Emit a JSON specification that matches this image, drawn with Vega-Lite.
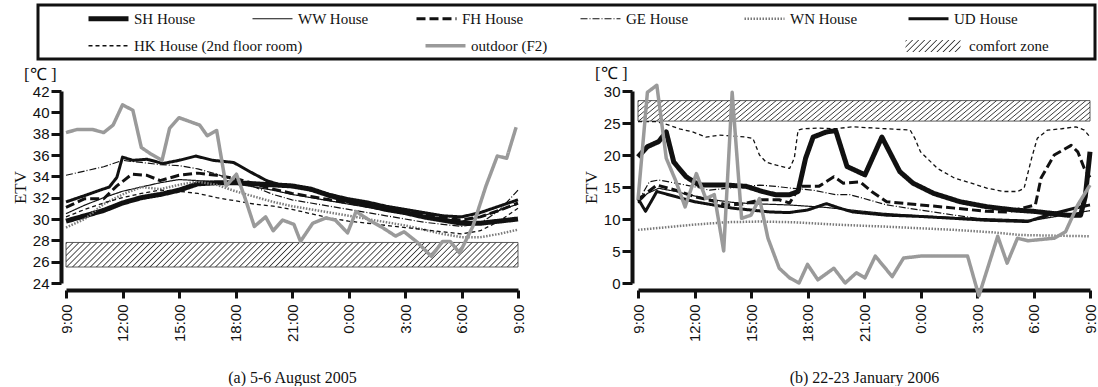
{
"$schema": "https://vega.github.io/schema/vega-lite/v6.json",
"padding": {"left": 11, "top": 3, "right": 3, "bottom": 0},
"background": "white",
"params": [
 {"name": "hatchSmall", "value": {"gradient": "linear", "x1": 0, "y1": 0, "x2": 1.163, "y2": 0.2535, "stops": [
{"offset":0,"color":"#fff"},{"offset":0.018,"color":"#3a3a3a"},{"offset":0.036,"color":"#fff"},
{"offset":0.09,"color":"#fff"},{"offset":0.108,"color":"#3a3a3a"},{"offset":0.126,"color":"#fff"},
{"offset":0.18,"color":"#fff"},{"offset":0.198,"color":"#3a3a3a"},{"offset":0.216,"color":"#fff"},
{"offset":0.27,"color":"#fff"},{"offset":0.288,"color":"#3a3a3a"},{"offset":0.306,"color":"#fff"},
{"offset":0.36,"color":"#fff"},{"offset":0.378,"color":"#3a3a3a"},{"offset":0.396,"color":"#fff"},
{"offset":0.45,"color":"#fff"},{"offset":0.468,"color":"#3a3a3a"},{"offset":0.486,"color":"#fff"},
{"offset":0.54,"color":"#fff"},{"offset":0.558,"color":"#3a3a3a"},{"offset":0.576,"color":"#fff"},
{"offset":0.63,"color":"#fff"},{"offset":0.648,"color":"#3a3a3a"},{"offset":0.666,"color":"#fff"},
{"offset":0.72,"color":"#fff"},{"offset":0.738,"color":"#3a3a3a"},{"offset":0.756,"color":"#fff"},
{"offset":0.81,"color":"#fff"},{"offset":0.828,"color":"#3a3a3a"},{"offset":0.846,"color":"#fff"},
{"offset":0.9,"color":"#fff"},{"offset":0.918,"color":"#3a3a3a"},{"offset":0.936,"color":"#fff"},
{"offset":1,"color":"#fff"}]}},
 {"name": "hatch", "value": {"gradient": "linear", "x1": 0, "y1": 0, "x2": 1.051, "y2": 0.0568, "stops": [
{"offset":0,"color":"#fff"},{"offset":0.0025,"color":"#3a3a3a"},{"offset":0.005,"color":"#fff"},
{"offset":0.0125,"color":"#fff"},{"offset":0.015,"color":"#3a3a3a"},{"offset":0.0175,"color":"#fff"},
{"offset":0.025,"color":"#fff"},{"offset":0.0275,"color":"#3a3a3a"},{"offset":0.03,"color":"#fff"},
{"offset":0.0375,"color":"#fff"},{"offset":0.04,"color":"#3a3a3a"},{"offset":0.0425,"color":"#fff"},
{"offset":0.05,"color":"#fff"},{"offset":0.0525,"color":"#3a3a3a"},{"offset":0.055,"color":"#fff"},
{"offset":0.0625,"color":"#fff"},{"offset":0.065,"color":"#3a3a3a"},{"offset":0.0675,"color":"#fff"},
{"offset":0.075,"color":"#fff"},{"offset":0.0775,"color":"#3a3a3a"},{"offset":0.08,"color":"#fff"},
{"offset":0.0875,"color":"#fff"},{"offset":0.09,"color":"#3a3a3a"},{"offset":0.0925,"color":"#fff"},
{"offset":0.1,"color":"#fff"},{"offset":0.1025,"color":"#3a3a3a"},{"offset":0.105,"color":"#fff"},
{"offset":0.1125,"color":"#fff"},{"offset":0.115,"color":"#3a3a3a"},{"offset":0.1175,"color":"#fff"},
{"offset":0.125,"color":"#fff"},{"offset":0.1275,"color":"#3a3a3a"},{"offset":0.13,"color":"#fff"},
{"offset":0.1375,"color":"#fff"},{"offset":0.14,"color":"#3a3a3a"},{"offset":0.1425,"color":"#fff"},
{"offset":0.15,"color":"#fff"},{"offset":0.1525,"color":"#3a3a3a"},{"offset":0.155,"color":"#fff"},
{"offset":0.1625,"color":"#fff"},{"offset":0.165,"color":"#3a3a3a"},{"offset":0.1675,"color":"#fff"},
{"offset":0.175,"color":"#fff"},{"offset":0.1775,"color":"#3a3a3a"},{"offset":0.18,"color":"#fff"},
{"offset":0.1875,"color":"#fff"},{"offset":0.19,"color":"#3a3a3a"},{"offset":0.1925,"color":"#fff"},
{"offset":0.2,"color":"#fff"},{"offset":0.2025,"color":"#3a3a3a"},{"offset":0.205,"color":"#fff"},
{"offset":0.2125,"color":"#fff"},{"offset":0.215,"color":"#3a3a3a"},{"offset":0.2175,"color":"#fff"},
{"offset":0.225,"color":"#fff"},{"offset":0.2275,"color":"#3a3a3a"},{"offset":0.23,"color":"#fff"},
{"offset":0.2375,"color":"#fff"},{"offset":0.24,"color":"#3a3a3a"},{"offset":0.2425,"color":"#fff"},
{"offset":0.25,"color":"#fff"},{"offset":0.2525,"color":"#3a3a3a"},{"offset":0.255,"color":"#fff"},
{"offset":0.2625,"color":"#fff"},{"offset":0.265,"color":"#3a3a3a"},{"offset":0.2675,"color":"#fff"},
{"offset":0.275,"color":"#fff"},{"offset":0.2775,"color":"#3a3a3a"},{"offset":0.28,"color":"#fff"},
{"offset":0.2875,"color":"#fff"},{"offset":0.29,"color":"#3a3a3a"},{"offset":0.2925,"color":"#fff"},
{"offset":0.3,"color":"#fff"},{"offset":0.3025,"color":"#3a3a3a"},{"offset":0.305,"color":"#fff"},
{"offset":0.3125,"color":"#fff"},{"offset":0.315,"color":"#3a3a3a"},{"offset":0.3175,"color":"#fff"},
{"offset":0.325,"color":"#fff"},{"offset":0.3275,"color":"#3a3a3a"},{"offset":0.33,"color":"#fff"},
{"offset":0.3375,"color":"#fff"},{"offset":0.34,"color":"#3a3a3a"},{"offset":0.3425,"color":"#fff"},
{"offset":0.35,"color":"#fff"},{"offset":0.3525,"color":"#3a3a3a"},{"offset":0.355,"color":"#fff"},
{"offset":0.3625,"color":"#fff"},{"offset":0.365,"color":"#3a3a3a"},{"offset":0.3675,"color":"#fff"},
{"offset":0.375,"color":"#fff"},{"offset":0.3775,"color":"#3a3a3a"},{"offset":0.38,"color":"#fff"},
{"offset":0.3875,"color":"#fff"},{"offset":0.39,"color":"#3a3a3a"},{"offset":0.3925,"color":"#fff"},
{"offset":0.4,"color":"#fff"},{"offset":0.4025,"color":"#3a3a3a"},{"offset":0.405,"color":"#fff"},
{"offset":0.4125,"color":"#fff"},{"offset":0.415,"color":"#3a3a3a"},{"offset":0.4175,"color":"#fff"},
{"offset":0.425,"color":"#fff"},{"offset":0.4275,"color":"#3a3a3a"},{"offset":0.43,"color":"#fff"},
{"offset":0.4375,"color":"#fff"},{"offset":0.44,"color":"#3a3a3a"},{"offset":0.4425,"color":"#fff"},
{"offset":0.45,"color":"#fff"},{"offset":0.4525,"color":"#3a3a3a"},{"offset":0.455,"color":"#fff"},
{"offset":0.4625,"color":"#fff"},{"offset":0.465,"color":"#3a3a3a"},{"offset":0.4675,"color":"#fff"},
{"offset":0.475,"color":"#fff"},{"offset":0.4775,"color":"#3a3a3a"},{"offset":0.48,"color":"#fff"},
{"offset":0.4875,"color":"#fff"},{"offset":0.49,"color":"#3a3a3a"},{"offset":0.4925,"color":"#fff"},
{"offset":0.5,"color":"#fff"},{"offset":0.5025,"color":"#3a3a3a"},{"offset":0.505,"color":"#fff"},
{"offset":0.5125,"color":"#fff"},{"offset":0.515,"color":"#3a3a3a"},{"offset":0.5175,"color":"#fff"},
{"offset":0.525,"color":"#fff"},{"offset":0.5275,"color":"#3a3a3a"},{"offset":0.53,"color":"#fff"},
{"offset":0.5375,"color":"#fff"},{"offset":0.54,"color":"#3a3a3a"},{"offset":0.5425,"color":"#fff"},
{"offset":0.55,"color":"#fff"},{"offset":0.5525,"color":"#3a3a3a"},{"offset":0.555,"color":"#fff"},
{"offset":0.5625,"color":"#fff"},{"offset":0.565,"color":"#3a3a3a"},{"offset":0.5675,"color":"#fff"},
{"offset":0.575,"color":"#fff"},{"offset":0.5775,"color":"#3a3a3a"},{"offset":0.58,"color":"#fff"},
{"offset":0.5875,"color":"#fff"},{"offset":0.59,"color":"#3a3a3a"},{"offset":0.5925,"color":"#fff"},
{"offset":0.6,"color":"#fff"},{"offset":0.6025,"color":"#3a3a3a"},{"offset":0.605,"color":"#fff"},
{"offset":0.6125,"color":"#fff"},{"offset":0.615,"color":"#3a3a3a"},{"offset":0.6175,"color":"#fff"},
{"offset":0.625,"color":"#fff"},{"offset":0.6275,"color":"#3a3a3a"},{"offset":0.63,"color":"#fff"},
{"offset":0.6375,"color":"#fff"},{"offset":0.64,"color":"#3a3a3a"},{"offset":0.6425,"color":"#fff"},
{"offset":0.65,"color":"#fff"},{"offset":0.6525,"color":"#3a3a3a"},{"offset":0.655,"color":"#fff"},
{"offset":0.6625,"color":"#fff"},{"offset":0.665,"color":"#3a3a3a"},{"offset":0.6675,"color":"#fff"},
{"offset":0.675,"color":"#fff"},{"offset":0.6775,"color":"#3a3a3a"},{"offset":0.68,"color":"#fff"},
{"offset":0.6875,"color":"#fff"},{"offset":0.69,"color":"#3a3a3a"},{"offset":0.6925,"color":"#fff"},
{"offset":0.7,"color":"#fff"},{"offset":0.7025,"color":"#3a3a3a"},{"offset":0.705,"color":"#fff"},
{"offset":0.7125,"color":"#fff"},{"offset":0.715,"color":"#3a3a3a"},{"offset":0.7175,"color":"#fff"},
{"offset":0.725,"color":"#fff"},{"offset":0.7275,"color":"#3a3a3a"},{"offset":0.73,"color":"#fff"},
{"offset":0.7375,"color":"#fff"},{"offset":0.74,"color":"#3a3a3a"},{"offset":0.7425,"color":"#fff"},
{"offset":0.75,"color":"#fff"},{"offset":0.7525,"color":"#3a3a3a"},{"offset":0.755,"color":"#fff"},
{"offset":0.7625,"color":"#fff"},{"offset":0.765,"color":"#3a3a3a"},{"offset":0.7675,"color":"#fff"},
{"offset":0.775,"color":"#fff"},{"offset":0.7775,"color":"#3a3a3a"},{"offset":0.78,"color":"#fff"},
{"offset":0.7875,"color":"#fff"},{"offset":0.79,"color":"#3a3a3a"},{"offset":0.7925,"color":"#fff"},
{"offset":0.8,"color":"#fff"},{"offset":0.8025,"color":"#3a3a3a"},{"offset":0.805,"color":"#fff"},
{"offset":0.8125,"color":"#fff"},{"offset":0.815,"color":"#3a3a3a"},{"offset":0.8175,"color":"#fff"},
{"offset":0.825,"color":"#fff"},{"offset":0.8275,"color":"#3a3a3a"},{"offset":0.83,"color":"#fff"},
{"offset":0.8375,"color":"#fff"},{"offset":0.84,"color":"#3a3a3a"},{"offset":0.8425,"color":"#fff"},
{"offset":0.85,"color":"#fff"},{"offset":0.8525,"color":"#3a3a3a"},{"offset":0.855,"color":"#fff"},
{"offset":0.8625,"color":"#fff"},{"offset":0.865,"color":"#3a3a3a"},{"offset":0.8675,"color":"#fff"},
{"offset":0.875,"color":"#fff"},{"offset":0.8775,"color":"#3a3a3a"},{"offset":0.88,"color":"#fff"},
{"offset":0.8875,"color":"#fff"},{"offset":0.89,"color":"#3a3a3a"},{"offset":0.8925,"color":"#fff"},
{"offset":0.9,"color":"#fff"},{"offset":0.9025,"color":"#3a3a3a"},{"offset":0.905,"color":"#fff"},
{"offset":0.9125,"color":"#fff"},{"offset":0.915,"color":"#3a3a3a"},{"offset":0.9175,"color":"#fff"},
{"offset":0.925,"color":"#fff"},{"offset":0.9275,"color":"#3a3a3a"},{"offset":0.93,"color":"#fff"},
{"offset":0.9375,"color":"#fff"},{"offset":0.94,"color":"#3a3a3a"},{"offset":0.9425,"color":"#fff"},
{"offset":0.95,"color":"#fff"},{"offset":0.9525,"color":"#3a3a3a"},{"offset":0.955,"color":"#fff"},
{"offset":0.9625,"color":"#fff"},{"offset":0.965,"color":"#3a3a3a"},{"offset":0.9675,"color":"#fff"},
{"offset":0.975,"color":"#fff"},{"offset":0.9775,"color":"#3a3a3a"},{"offset":0.98,"color":"#fff"},
{"offset":0.9875,"color":"#fff"},{"offset":0.99,"color":"#3a3a3a"},{"offset":0.9925,"color":"#fff"},
{"offset":1,"color":"#fff"}]}}
],
"config": {
 "view": {"stroke": null},
 "font": "Liberation Serif",
 "axis": {"grid": false, "domainColor": "#111", "domainWidth": 4, "tickColor": "#111", "tickWidth": 3, "labelFont": "Liberation Sans", "labelFontSize": 15, "labelColor": "#111", "titleFont": "Liberation Serif", "titleFontSize": 17, "titleFontWeight": "normal", "titleColor": "#111", "labelOverlap": false, "labelFlush": false},
 "legend": {"labelFont": "Liberation Serif", "labelFontSize": 15, "labelColor": "#111", "padding": 0, "labelLimit": 400},
 "title": {"font": "Liberation Serif", "fontSize": 17, "fontWeight": "normal", "color": "#111"},
 "line": {"strokeJoin": "round"}
},
"datasets": {
 "comfortA": [{"t": 9, "t2": 33, "v": 25.5, "v2": 27.8, "zone": "comfort zone"}],
 "comfortB": [{"t": 9, "t2": 33, "v": 25.3, "v2": 28.5, "zone": "comfort zone"}],
 "a": [
{"s":"SH House","t":9,"v":29.8},{"s":"SH House","t":10,"v":30.3},{"s":"SH House","t":11,"v":30.8},{"s":"SH House","t":12,"v":31.5},{"s":"SH House","t":13,"v":32.0},{"s":"SH House","t":14,"v":32.3},{"s":"SH House","t":15,"v":32.7},{"s":"SH House","t":16,"v":33.3},{"s":"SH House","t":17,"v":33.4},{"s":"SH House","t":18,"v":33.4},{"s":"SH House","t":19,"v":33.3},{"s":"SH House","t":20,"v":33.2},{"s":"SH House","t":21,"v":33.1},{"s":"SH House","t":22,"v":32.8},{"s":"SH House","t":23,"v":32.2},{"s":"SH House","t":24,"v":31.7},{"s":"SH House","t":25,"v":31.3},{"s":"SH House","t":26,"v":30.9},{"s":"SH House","t":27,"v":30.6},{"s":"SH House","t":28,"v":30.2},{"s":"SH House","t":29,"v":29.9},{"s":"SH House","t":30,"v":29.6},{"s":"SH House","t":31,"v":29.6},{"s":"SH House","t":32,"v":29.8},{"s":"SH House","t":33,"v":30.0},
{"s":"WW House","t":9,"v":30.5},{"s":"WW House","t":10,"v":31.3},{"s":"WW House","t":11,"v":32.0},{"s":"WW House","t":12,"v":32.6},{"s":"WW House","t":13,"v":33.0},{"s":"WW House","t":14,"v":33.4},{"s":"WW House","t":15,"v":33.7},{"s":"WW House","t":16,"v":33.6},{"s":"WW House","t":17,"v":33.5},{"s":"WW House","t":18,"v":33.3},{"s":"WW House","t":19,"v":33.0},{"s":"WW House","t":20,"v":32.7},{"s":"WW House","t":21,"v":32.3},{"s":"WW House","t":22,"v":32.0},{"s":"WW House","t":23,"v":31.7},{"s":"WW House","t":24,"v":31.4},{"s":"WW House","t":25,"v":31.1},{"s":"WW House","t":26,"v":30.8},{"s":"WW House","t":27,"v":30.5},{"s":"WW House","t":28,"v":30.2},{"s":"WW House","t":29,"v":29.9},{"s":"WW House","t":30,"v":29.8},{"s":"WW House","t":31,"v":30.2},{"s":"WW House","t":32,"v":30.8},{"s":"WW House","t":33,"v":31.4},
{"s":"FH House","t":9,"v":31.1},{"s":"FH House","t":10,"v":31.9},{"s":"FH House","t":11,"v":31.9},{"s":"FH House","t":11.7,"v":33.1},{"s":"FH House","t":12.5,"v":34.2},{"s":"FH House","t":13.3,"v":34.1},{"s":"FH House","t":14,"v":33.6},{"s":"FH House","t":15,"v":34.1},{"s":"FH House","t":16,"v":34.3},{"s":"FH House","t":17,"v":34.1},{"s":"FH House","t":18,"v":33.8},{"s":"FH House","t":19,"v":33.3},{"s":"FH House","t":20,"v":32.8},{"s":"FH House","t":21,"v":32.4},{"s":"FH House","t":22,"v":32.1},{"s":"FH House","t":23,"v":31.8},{"s":"FH House","t":24,"v":31.5},{"s":"FH House","t":25,"v":31.2},{"s":"FH House","t":26,"v":31.0},{"s":"FH House","t":27,"v":30.7},{"s":"FH House","t":28,"v":30.4},{"s":"FH House","t":29,"v":30.1},{"s":"FH House","t":30,"v":29.9},{"s":"FH House","t":31,"v":30.2},{"s":"FH House","t":32,"v":30.8},{"s":"FH House","t":33,"v":31.5},
{"s":"GE House","t":9,"v":34.1},{"s":"GE House","t":10,"v":34.5},{"s":"GE House","t":11,"v":34.9},{"s":"GE House","t":12,"v":35.5},{"s":"GE House","t":13,"v":35.3},{"s":"GE House","t":14,"v":35.1},{"s":"GE House","t":15,"v":35.0},{"s":"GE House","t":16,"v":34.7},{"s":"GE House","t":17,"v":34.2},{"s":"GE House","t":18,"v":33.6},{"s":"GE House","t":19,"v":33.0},{"s":"GE House","t":20,"v":32.3},{"s":"GE House","t":21,"v":31.8},{"s":"GE House","t":22,"v":31.5},{"s":"GE House","t":23,"v":31.2},{"s":"GE House","t":24,"v":30.9},{"s":"GE House","t":25,"v":30.6},{"s":"GE House","t":26,"v":30.3},{"s":"GE House","t":27,"v":30.0},{"s":"GE House","t":28,"v":29.7},{"s":"GE House","t":29,"v":29.5},{"s":"GE House","t":30,"v":29.3},{"s":"GE House","t":31,"v":29.6},{"s":"GE House","t":32,"v":30.8},{"s":"GE House","t":33,"v":32.7},
{"s":"WN House","t":9,"v":29.2},{"s":"WN House","t":10,"v":30.0},{"s":"WN House","t":11,"v":31.4},{"s":"WN House","t":12,"v":32.3},{"s":"WN House","t":13,"v":33.0},{"s":"WN House","t":14,"v":32.8},{"s":"WN House","t":15,"v":33.2},{"s":"WN House","t":16,"v":33.5},{"s":"WN House","t":17,"v":33.2},{"s":"WN House","t":18,"v":32.6},{"s":"WN House","t":19,"v":32.1},{"s":"WN House","t":20,"v":31.6},{"s":"WN House","t":21,"v":31.2},{"s":"WN House","t":22,"v":30.9},{"s":"WN House","t":23,"v":30.6},{"s":"WN House","t":24,"v":30.3},{"s":"WN House","t":25,"v":30.0},{"s":"WN House","t":26,"v":29.7},{"s":"WN House","t":27,"v":29.4},{"s":"WN House","t":28,"v":29.0},{"s":"WN House","t":29,"v":28.6},{"s":"WN House","t":30,"v":28.3},{"s":"WN House","t":31,"v":28.3},{"s":"WN House","t":32,"v":28.6},{"s":"WN House","t":33,"v":29.0},
{"s":"UD House","t":9,"v":31.6},{"s":"UD House","t":10,"v":32.2},{"s":"UD House","t":10.8,"v":32.7},{"s":"UD House","t":11.3,"v":33.0},{"s":"UD House","t":11.7,"v":33.9},{"s":"UD House","t":12,"v":35.8},{"s":"UD House","t":12.55,"v":35.5},{"s":"UD House","t":13.3,"v":35.6},{"s":"UD House","t":14.15,"v":35.2},{"s":"UD House","t":15,"v":35.5},{"s":"UD House","t":15.9,"v":35.9},{"s":"UD House","t":16.8,"v":35.5},{"s":"UD House","t":17.9,"v":35.3},{"s":"UD House","t":18.8,"v":34.4},{"s":"UD House","t":19.65,"v":33.6},{"s":"UD House","t":20.55,"v":33.1},{"s":"UD House","t":21.4,"v":33.0},{"s":"UD House","t":22,"v":32.7},{"s":"UD House","t":23,"v":32.3},{"s":"UD House","t":24,"v":31.9},{"s":"UD House","t":25,"v":31.6},{"s":"UD House","t":26,"v":31.2},{"s":"UD House","t":27,"v":30.9},{"s":"UD House","t":28,"v":30.6},{"s":"UD House","t":29,"v":30.3},{"s":"UD House","t":30,"v":30.2},{"s":"UD House","t":31,"v":30.6},{"s":"UD House","t":32,"v":31.2},{"s":"UD House","t":33,"v":31.8},
{"s":"HK House (2nd floor room)","t":9,"v":30.2},{"s":"HK House (2nd floor room)","t":10,"v":30.9},{"s":"HK House (2nd floor room)","t":11,"v":31.5},{"s":"HK House (2nd floor room)","t":12,"v":32.0},{"s":"HK House (2nd floor room)","t":13,"v":32.4},{"s":"HK House (2nd floor room)","t":14,"v":32.7},{"s":"HK House (2nd floor room)","t":15,"v":32.6},{"s":"HK House (2nd floor room)","t":16,"v":32.4},{"s":"HK House (2nd floor room)","t":17,"v":32.0},{"s":"HK House (2nd floor room)","t":18,"v":31.7},{"s":"HK House (2nd floor room)","t":19,"v":31.4},{"s":"HK House (2nd floor room)","t":20,"v":31.2},{"s":"HK House (2nd floor room)","t":21,"v":30.9},{"s":"HK House (2nd floor room)","t":22,"v":30.5},{"s":"HK House (2nd floor room)","t":23,"v":30.1},{"s":"HK House (2nd floor room)","t":24,"v":29.8},{"s":"HK House (2nd floor room)","t":25,"v":29.6},{"s":"HK House (2nd floor room)","t":26,"v":29.4},{"s":"HK House (2nd floor room)","t":27,"v":29.2},{"s":"HK House (2nd floor room)","t":28,"v":29.0},{"s":"HK House (2nd floor room)","t":29,"v":28.8},{"s":"HK House (2nd floor room)","t":30,"v":28.6},{"s":"HK House (2nd floor room)","t":31,"v":28.9},{"s":"HK House (2nd floor room)","t":32,"v":29.8},{"s":"HK House (2nd floor room)","t":33,"v":31.0},
{"s":"outdoor (F2)","t":9,"v":38.1},{"s":"outdoor (F2)","t":9.6,"v":38.4},{"s":"outdoor (F2)","t":10.4,"v":38.4},{"s":"outdoor (F2)","t":11,"v":38.1},{"s":"outdoor (F2)","t":11.5,"v":38.8},{"s":"outdoor (F2)","t":12,"v":40.7},{"s":"outdoor (F2)","t":12.55,"v":40.2},{"s":"outdoor (F2)","t":13,"v":36.7},{"s":"outdoor (F2)","t":13.5,"v":36.1},{"s":"outdoor (F2)","t":14.1,"v":35.5},{"s":"outdoor (F2)","t":14.5,"v":38.5},{"s":"outdoor (F2)","t":15,"v":39.5},{"s":"outdoor (F2)","t":16.1,"v":38.8},{"s":"outdoor (F2)","t":16.5,"v":37.8},{"s":"outdoor (F2)","t":17,"v":38.3},{"s":"outdoor (F2)","t":17.5,"v":33.1},{"s":"outdoor (F2)","t":18.05,"v":34.2},{"s":"outdoor (F2)","t":18.5,"v":32.0},{"s":"outdoor (F2)","t":19,"v":29.3},{"s":"outdoor (F2)","t":19.6,"v":30.2},{"s":"outdoor (F2)","t":20,"v":28.9},{"s":"outdoor (F2)","t":20.5,"v":29.9},{"s":"outdoor (F2)","t":21.1,"v":29.5},{"s":"outdoor (F2)","t":21.45,"v":27.9},{"s":"outdoor (F2)","t":22.1,"v":29.6},{"s":"outdoor (F2)","t":22.8,"v":30.1},{"s":"outdoor (F2)","t":23.3,"v":29.9},{"s":"outdoor (F2)","t":23.95,"v":28.7},{"s":"outdoor (F2)","t":24.4,"v":30.7},{"s":"outdoor (F2)","t":25.1,"v":29.9},{"s":"outdoor (F2)","t":25.8,"v":29.2},{"s":"outdoor (F2)","t":26.5,"v":28.4},{"s":"outdoor (F2)","t":26.95,"v":28.8},{"s":"outdoor (F2)","t":27.6,"v":27.9},{"s":"outdoor (F2)","t":28.4,"v":26.5},{"s":"outdoor (F2)","t":29,"v":27.9},{"s":"outdoor (F2)","t":29.4,"v":27.9},{"s":"outdoor (F2)","t":29.9,"v":26.8},{"s":"outdoor (F2)","t":30.6,"v":29.3},{"s":"outdoor (F2)","t":31.3,"v":33.1},{"s":"outdoor (F2)","t":31.9,"v":35.9},{"s":"outdoor (F2)","t":32.4,"v":35.7},{"s":"outdoor (F2)","t":32.9,"v":38.6}
 ],
 "b": [
{"s":"SH House","t":9,"v":19.7},{"s":"SH House","t":9.5,"v":21.3},{"s":"SH House","t":10.1,"v":22.1},{"s":"SH House","t":10.5,"v":23.6},{"s":"SH House","t":10.9,"v":18.9},{"s":"SH House","t":11.55,"v":16.6},{"s":"SH House","t":12.25,"v":15.3},{"s":"SH House","t":13.7,"v":15.3},{"s":"SH House","t":14.75,"v":15.1},{"s":"SH House","t":15.6,"v":14.3},{"s":"SH House","t":16.3,"v":13.8},{"s":"SH House","t":17.05,"v":13.8},{"s":"SH House","t":17.5,"v":14.3},{"s":"SH House","t":17.9,"v":19.5},{"s":"SH House","t":18.3,"v":22.8},{"s":"SH House","t":19,"v":23.6},{"s":"SH House","t":19.5,"v":23.8},{"s":"SH House","t":20.1,"v":18.2},{"s":"SH House","t":21.05,"v":16.9},{"s":"SH House","t":21.95,"v":22.8},{"s":"SH House","t":22.9,"v":17.4},{"s":"SH House","t":23.6,"v":15.6},{"s":"SH House","t":24.7,"v":14.0},{"s":"SH House","t":26.1,"v":12.7},{"s":"SH House","t":27.55,"v":11.9},{"s":"SH House","t":29,"v":11.4},{"s":"SH House","t":30,"v":11.2},{"s":"SH House","t":30.9,"v":10.9},{"s":"SH House","t":31.8,"v":10.6},{"s":"SH House","t":32.5,"v":10.6},{"s":"SH House","t":32.75,"v":13.5},{"s":"SH House","t":33,"v":20.5},
{"s":"WW House","t":9,"v":12.5},{"s":"WW House","t":9.5,"v":14.0},{"s":"WW House","t":10.1,"v":14.8},{"s":"WW House","t":11,"v":14.3},{"s":"WW House","t":12,"v":13.6},{"s":"WW House","t":13,"v":13.0},{"s":"WW House","t":14,"v":12.6},{"s":"WW House","t":15,"v":12.4},{"s":"WW House","t":16,"v":12.3},{"s":"WW House","t":17,"v":12.2},{"s":"WW House","t":18,"v":12.0},{"s":"WW House","t":19,"v":11.8},{"s":"WW House","t":20,"v":11.5},{"s":"WW House","t":21,"v":11.2},{"s":"WW House","t":22,"v":10.9},{"s":"WW House","t":23,"v":10.7},{"s":"WW House","t":24,"v":10.5},{"s":"WW House","t":26,"v":10.2},{"s":"WW House","t":28,"v":10.0},{"s":"WW House","t":30,"v":9.8},{"s":"WW House","t":31,"v":10.3},{"s":"WW House","t":32,"v":10.8},{"s":"WW House","t":33,"v":11.3},
{"s":"FH House","t":9,"v":13.0},{"s":"FH House","t":10,"v":15.3},{"s":"FH House","t":11,"v":14.5},{"s":"FH House","t":12,"v":13.5},{"s":"FH House","t":13,"v":12.8},{"s":"FH House","t":13.7,"v":12.2},{"s":"FH House","t":14.5,"v":12.3},{"s":"FH House","t":15.5,"v":13.0},{"s":"FH House","t":16.5,"v":13.0},{"s":"FH House","t":17.05,"v":12.5},{"s":"FH House","t":17.6,"v":15.1},{"s":"FH House","t":18.6,"v":15.1},{"s":"FH House","t":19.4,"v":16.6},{"s":"FH House","t":19.9,"v":15.6},{"s":"FH House","t":20.8,"v":15.8},{"s":"FH House","t":21.4,"v":14.3},{"s":"FH House","t":22.2,"v":12.7},{"s":"FH House","t":24,"v":12.2},{"s":"FH House","t":25.8,"v":11.7},{"s":"FH House","t":27.5,"v":11.2},{"s":"FH House","t":28.6,"v":11.1},{"s":"FH House","t":30.1,"v":12.2},{"s":"FH House","t":30.4,"v":16.4},{"s":"FH House","t":31.1,"v":20.0},{"s":"FH House","t":32,"v":21.5},{"s":"FH House","t":32.35,"v":20.5},{"s":"FH House","t":32.7,"v":17.9},{"s":"FH House","t":33,"v":16.5},
{"s":"GE House","t":9,"v":12.7},{"s":"GE House","t":9.6,"v":15.8},{"s":"GE House","t":10.1,"v":16.1},{"s":"GE House","t":11,"v":15.6},{"s":"GE House","t":11.9,"v":15.1},{"s":"GE House","t":12.8,"v":14.5},{"s":"GE House","t":13.7,"v":14.8},{"s":"GE House","t":14.75,"v":15.1},{"s":"GE House","t":15.45,"v":15.3},{"s":"GE House","t":16.3,"v":15.1},{"s":"GE House","t":17.2,"v":14.8},{"s":"GE House","t":18.3,"v":14.5},{"s":"GE House","t":19.5,"v":13.8},{"s":"GE House","t":20.25,"v":13.8},{"s":"GE House","t":21,"v":13.2},{"s":"GE House","t":22.2,"v":12.2},{"s":"GE House","t":24,"v":11.4},{"s":"GE House","t":25.8,"v":10.6},{"s":"GE House","t":27.55,"v":9.9},{"s":"GE House","t":29.3,"v":9.6},{"s":"GE House","t":30.2,"v":9.9},{"s":"GE House","t":31.1,"v":10.6},{"s":"GE House","t":32.2,"v":11.7},{"s":"GE House","t":33,"v":12.2},
{"s":"WN House","t":9,"v":8.3},{"s":"WN House","t":10.1,"v":8.6},{"s":"WN House","t":11.9,"v":9.1},{"s":"WN House","t":13.7,"v":9.5},{"s":"WN House","t":15.45,"v":9.6},{"s":"WN House","t":17.2,"v":9.5},{"s":"WN House","t":19.7,"v":9.1},{"s":"WN House","t":22.2,"v":8.8},{"s":"WN House","t":25.8,"v":8.3},{"s":"WN House","t":27.9,"v":7.9},{"s":"WN House","t":29.3,"v":7.5},{"s":"WN House","t":31.1,"v":7.4},{"s":"WN House","t":33,"v":7.3},
{"s":"UD House","t":9,"v":13.2},{"s":"UD House","t":9.4,"v":11.2},{"s":"UD House","t":10,"v":14.3},{"s":"UD House","t":11,"v":13.5},{"s":"UD House","t":12,"v":12.7},{"s":"UD House","t":13,"v":12.2},{"s":"UD House","t":14,"v":11.7},{"s":"UD House","t":15,"v":11.4},{"s":"UD House","t":16,"v":11.1},{"s":"UD House","t":17,"v":11.0},{"s":"UD House","t":18,"v":11.4},{"s":"UD House","t":19,"v":12.4},{"s":"UD House","t":19.7,"v":11.7},{"s":"UD House","t":20.4,"v":11.1},{"s":"UD House","t":22.2,"v":10.6},{"s":"UD House","t":24,"v":10.4},{"s":"UD House","t":25.8,"v":10.1},{"s":"UD House","t":27.5,"v":9.8},{"s":"UD House","t":29.7,"v":9.6},{"s":"UD House","t":30.2,"v":10.1},{"s":"UD House","t":31.1,"v":10.9},{"s":"UD House","t":32.2,"v":11.7},{"s":"UD House","t":33,"v":12.2},
{"s":"HK House (2nd floor room)","t":9,"v":25.2},{"s":"HK House (2nd floor room)","t":10,"v":25.2},{"s":"HK House (2nd floor room)","t":10.6,"v":24.7},{"s":"HK House (2nd floor room)","t":11.2,"v":24.1},{"s":"HK House (2nd floor room)","t":11.9,"v":23.6},{"s":"HK House (2nd floor room)","t":12.6,"v":22.8},{"s":"HK House (2nd floor room)","t":13.3,"v":23.1},{"s":"HK House (2nd floor room)","t":14.75,"v":22.8},{"s":"HK House (2nd floor room)","t":15.1,"v":22.6},{"s":"HK House (2nd floor room)","t":15.45,"v":20.0},{"s":"HK House (2nd floor room)","t":15.8,"v":18.9},{"s":"HK House (2nd floor room)","t":16.35,"v":18.4},{"s":"HK House (2nd floor room)","t":17.05,"v":17.9},{"s":"HK House (2nd floor room)","t":17.3,"v":19.5},{"s":"HK House (2nd floor room)","t":17.5,"v":23.9},{"s":"HK House (2nd floor room)","t":17.75,"v":24.1},{"s":"HK House (2nd floor room)","t":18.6,"v":24.2},{"s":"HK House (2nd floor room)","t":19.5,"v":24.1},{"s":"HK House (2nd floor room)","t":20.4,"v":24.4},{"s":"HK House (2nd floor room)","t":22.2,"v":24.1},{"s":"HK House (2nd floor room)","t":23.45,"v":23.9},{"s":"HK House (2nd floor room)","t":23.7,"v":22.6},{"s":"HK House (2nd floor room)","t":24,"v":20.5},{"s":"HK House (2nd floor room)","t":24.9,"v":17.9},{"s":"HK House (2nd floor room)","t":25.8,"v":16.4},{"s":"HK House (2nd floor room)","t":26.7,"v":15.6},{"s":"HK House (2nd floor room)","t":27.55,"v":14.8},{"s":"HK House (2nd floor room)","t":28.4,"v":14.3},{"s":"HK House (2nd floor room)","t":29.15,"v":14.3},{"s":"HK House (2nd floor room)","t":29.5,"v":14.8},{"s":"HK House (2nd floor room)","t":29.9,"v":19.5},{"s":"HK House (2nd floor room)","t":30.2,"v":22.6},{"s":"HK House (2nd floor room)","t":30.75,"v":23.9},{"s":"HK House (2nd floor room)","t":31.5,"v":24.1},{"s":"HK House (2nd floor room)","t":32.25,"v":24.4},{"s":"HK House (2nd floor room)","t":32.7,"v":23.9},{"s":"HK House (2nd floor room)","t":33,"v":22.8},
{"s":"outdoor (F2)","t":9,"v":13.0},{"s":"outdoor (F2)","t":9.5,"v":29.8},{"s":"outdoor (F2)","t":10,"v":30.9},{"s":"outdoor (F2)","t":10.5,"v":19.5},{"s":"outdoor (F2)","t":11,"v":16.0},{"s":"outdoor (F2)","t":11.5,"v":11.9},{"s":"outdoor (F2)","t":12.1,"v":17.1},{"s":"outdoor (F2)","t":12.6,"v":13.2},{"s":"outdoor (F2)","t":13.05,"v":13.8},{"s":"outdoor (F2)","t":13.55,"v":5.0},{"s":"outdoor (F2)","t":14,"v":29.8},{"s":"outdoor (F2)","t":14.5,"v":10.1},{"s":"outdoor (F2)","t":15,"v":10.6},{"s":"outdoor (F2)","t":15.45,"v":13.2},{"s":"outdoor (F2)","t":15.9,"v":7.0},{"s":"outdoor (F2)","t":16.5,"v":2.3},{"s":"outdoor (F2)","t":17.05,"v":0.8},{"s":"outdoor (F2)","t":17.55,"v":0.0},{"s":"outdoor (F2)","t":18,"v":2.9},{"s":"outdoor (F2)","t":18.55,"v":0.5},{"s":"outdoor (F2)","t":19.4,"v":2.3},{"s":"outdoor (F2)","t":20,"v":0.0},{"s":"outdoor (F2)","t":20.6,"v":1.6},{"s":"outdoor (F2)","t":21.05,"v":0.8},{"s":"outdoor (F2)","t":21.6,"v":4.2},{"s":"outdoor (F2)","t":22.5,"v":1.0},{"s":"outdoor (F2)","t":23.1,"v":3.9},{"s":"outdoor (F2)","t":24,"v":4.2},{"s":"outdoor (F2)","t":26.5,"v":4.2},{"s":"outdoor (F2)","t":27.1,"v":-2.0},{"s":"outdoor (F2)","t":28.1,"v":7.3},{"s":"outdoor (F2)","t":28.6,"v":3.1},{"s":"outdoor (F2)","t":29.15,"v":7.0},{"s":"outdoor (F2)","t":29.7,"v":6.6},{"s":"outdoor (F2)","t":31.1,"v":7.0},{"s":"outdoor (F2)","t":31.7,"v":8.0},{"s":"outdoor (F2)","t":32.35,"v":12.2},{"s":"outdoor (F2)","t":33,"v":15.3}
 ]
},
"spacing": 4,
"vconcat": [
 {
  "width": 1057, "height": 54,
  "view": {"stroke": "#111", "strokeWidth": 3},
  "data": {"values": []},
  "mark": "point"
 },
 {
  "spacing": -28,
  "hconcat": [
   {"width": 1, "height": 1, "data": {"values": []}, "mark": "point"},
   {
    "spacing": 56,
    "hconcat": [
     {
      "width": 452, "height": 192,
      "title": {"text": "[℃ ]", "anchor": "start", "frame": "group", "dx": -42, "offset": 0},
      "encoding": {
       "x": {"field": "t", "type": "quantitative", "scale": {"domain": [9, 33], "nice": false, "zero": false},
        "axis": {"values": [9,12,15,18,21,24,27,30,33], "labelExpr": "(datum.value % 24) + ':00'", "labelAngle": 270, "offset": 7, "tickSize": 8, "labelPadding": 6, "labelFontSize": 15, "title": "(a) 5-6 August 2005", "titlePadding": 28, "titleFontSize": 16}},
       "y": {"field": "v", "type": "quantitative", "scale": {"domain": [24, 42], "nice": false, "zero": false},
        "axis": {"values": [24,26,28,30,32,34,36,38,40,42], "offset": 5, "tickSize": 10, "labelPadding": 2, "title": "ETV", "titlePadding": 3}}
      },
      "layer": [
       {"data": {"name": "comfortA"}, "mark": {"type": "rect", "fill": {"expr": "hatch"}, "stroke": "#333", "strokeWidth": 0.8},
        "encoding": {"x2": {"field": "t2"}, "y2": {"field": "v2"}}},
       {"data": {"name": "comfortA"}, "mark": {"type": "point", "filled": true, "fill": {"expr": "hatchSmall"}, "stroke": "#333", "strokeWidth": 0.8, "opacity": 0},
        "encoding": {
         "shape": {"field": "zone", "type": "nominal", "scale": {"domain": ["comfort zone"], "range": ["M-1,-0.22H1V0.22H-1Z"]},
          "legend": {"title": null, "orient": "none", "legendX": 867, "legendY": 13, "symbolSize": 3025, "labelOffset": 8, "symbolOpacity": 1, "symbolFillColor": {"expr": "hatchSmall"}, "symbolStrokeColor": "#333", "symbolStrokeWidth": 0.8}}}},
       {"data": {"name": "a"}, "transform": [{"filter": "datum.s !== 'HK House (2nd floor room)' && datum.s !== 'outdoor (F2)'"}],
        "mark": {"type": "line", "strokeWidth": {"expr": "(datum.s || datum.value) === 'SH House' ? 5 : ((datum.s || datum.value) === 'FH House' || (datum.s || datum.value) === 'UD House') ? 3 : (datum.s || datum.value) === 'WN House' ? 2.5 : 1.2"}},
        "encoding": {
         "color": {"field": "s", "type": "nominal", "scale": {"domain": ["SH House","WW House","FH House","GE House","WN House","UD House"], "range": ["#111","#111","#111","#111","#7a7a7a","#111"]},
          "legend": {"title": null, "orient": "none", "legendX": 63, "legendY": 6, "direction": "horizontal", "columns": 6, "gridAlign": "all", "columnPadding": 46, "symbolSize": 1600, "labelOffset": 18, "symbolType": "stroke",
           "symbolStrokeWidth": {"expr": "datum.value === 'SH House' ? 5 : (datum.value === 'FH House' || datum.value === 'UD House') ? 3 : datum.value === 'WN House' ? 2.5 : 1.2"}}},
         "strokeDash": {"field": "s", "type": "nominal", "scale": {"domain": ["SH House","WW House","FH House","GE House","WN House","UD House"], "range": [[1,0],[1,0],[9,4],[7,2,1,2],[1.5,1.5],[1,0]]}}
        }},
       {"data": {"name": "a"}, "transform": [{"filter": "datum.s === 'HK House (2nd floor room)' || datum.s === 'outdoor (F2)'"}],
        "mark": {"type": "line", "strokeWidth": {"expr": "(datum.s || datum.value) === 'outdoor (F2)' ? 3.5 : 1.3"}, "strokeDash": {"expr": "(datum.s || datum.value) === 'outdoor (F2)' ? [1,0] : [4,3]"}},
        "encoding": {"stroke": {"field": "s", "type": "nominal", "scale": {"domain": ["HK House (2nd floor room)", "outdoor (F2)"], "range": ["#111", "#9a9a9a"]},
          "legend": {"title": null, "orient": "none", "legendX": 63, "legendY": 33, "direction": "horizontal", "columns": 2, "columnPadding": 120, "symbolSize": 1600, "labelOffset": 18, "symbolType": "stroke",
           "symbolStrokeWidth": {"expr": "datum.value === 'outdoor (F2)' ? 3.5 : 1.3"}, "symbolDash": {"expr": "datum.value === 'outdoor (F2)' ? [1,0] : [4,3]"}}}}}
      ]
     },
     {
      "width": 452, "height": 192,
      "title": {"text": "[℃ ]", "anchor": "start", "frame": "group", "dx": -43, "offset": 0},
      "encoding": {
       "x": {"field": "t", "type": "quantitative", "scale": {"domain": [9, 33], "nice": false, "zero": false},
        "axis": {"values": [9,12,15,18,21,24,27,30,33], "labelExpr": "(datum.value % 24) + ':00'", "labelAngle": 270, "offset": 7, "tickSize": 8, "labelPadding": 6, "labelFontSize": 15, "title": "(b) 22-23 January 2006", "titlePadding": 28, "titleFontSize": 16}},
       "y": {"field": "v", "type": "quantitative", "scale": {"domain": [0, 30], "nice": false, "zero": false},
        "axis": {"values": [0,5,10,15,20,25,30], "offset": 6, "tickSize": 10, "labelPadding": 2, "title": "ETV", "titlePadding": 3}}
      },
      "layer": [
       {"data": {"name": "comfortB"}, "mark": {"type": "rect", "fill": {"expr": "hatch"}, "stroke": "#333", "strokeWidth": 0.8},
        "encoding": {"x2": {"field": "t2"}, "y2": {"field": "v2"}}},
       {"data": {"name": "b"}, "transform": [{"filter": "datum.s !== 'HK House (2nd floor room)' && datum.s !== 'outdoor (F2)'"}],
        "mark": {"type": "line", "strokeWidth": {"expr": "(datum.s || datum.value) === 'SH House' ? 5 : ((datum.s || datum.value) === 'FH House' || (datum.s || datum.value) === 'UD House') ? 3 : (datum.s || datum.value) === 'WN House' ? 2.5 : 1.2"}},
        "encoding": {
         "color": {"field": "s", "type": "nominal"},
         "strokeDash": {"field": "s", "type": "nominal"}
        }},
       {"data": {"name": "b"}, "transform": [{"filter": "datum.s === 'HK House (2nd floor room)' || datum.s === 'outdoor (F2)'"}],
        "mark": {"type": "line", "strokeWidth": {"expr": "(datum.s || datum.value) === 'outdoor (F2)' ? 3.5 : 1.3"}, "strokeDash": {"expr": "(datum.s || datum.value) === 'outdoor (F2)' ? [1,0] : [4,3]"}},
        "encoding": {"stroke": {"field": "s", "type": "nominal"}}}
      ]
     }
    ]
   }
  ]
 }
]
}
